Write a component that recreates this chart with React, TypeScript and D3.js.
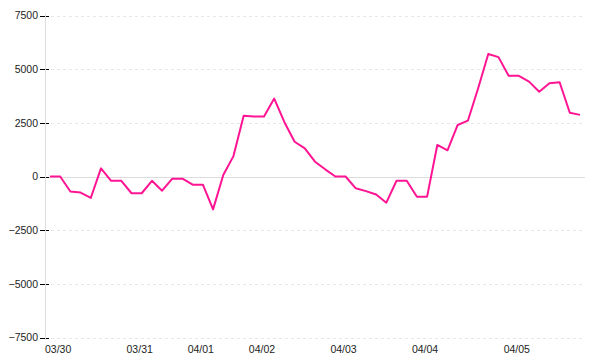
import React from "react";
import * as d3 from "d3";

const values: number[] = [
  0, 0, -700, -750, -1000, 380, -200, -200, -780, -780,
  -200, -660, -100, -100, -380, -380, -1530, 70, 950, 2830,
  2790, 2790, 3630, 2530, 1620, 1310, 690, 335, 0, 0,
  -550, -680, -840, -1220, -200, -200, -940, -940, 1470, 1220,
  2400, 2600, 4100, 5710, 5560, 4690, 4690, 4420, 3950, 4340,
  4390, 2970, 2870,
];
const dayLabels: string[] = ["03/30", "03/31", "04/01", "04/02", "04/03", "04/04", "04/05"];
const dayStartIndex: number[] = [0, 8, 14, 20, 28, 36, 45];
const yTicks: number[] = [7500, 5000, 2500, 0, -2500, -5000, -7500];

const W = 600;
const H = 360;

export default function App() {
  const x = d3.scaleLinear().domain([0, values.length - 1]).range([50, 580]);
  const y = d3.scaleLinear().domain([-7500, 7500]).range([337.5, 15.5]);
  const line = d3
    .line<number>()
    .x((_, i) => x(i))
    .y((d) => y(d));
  const fmt = (v: number) => (v < 0 ? "\u2212" + Math.abs(v) : String(v));
  const font = "'Liberation Sans', Arial, sans-serif";

  return (
    <svg
      width={W}
      height={H}
      style={{ position: "absolute", left: 0, top: 0, display: "block" }}
      shapeRendering="crispEdges"
    >
      <rect width={W} height={H} fill="#fff" />
      {yTicks.map((t) =>
        t === 0 ? (
          <line key={t} x1={45} x2={585} y1={Math.round(y(t)) + 0.5} y2={Math.round(y(t)) + 0.5} stroke="#dddddd" strokeWidth={1} />
        ) : (
          <line
            key={t}
            x1={51}
            x2={584}
            y1={Math.round(y(t)) + 0.5}
            y2={Math.round(y(t)) + 0.5}
            stroke="#e6e6e6"
            strokeWidth={1}
            strokeDasharray="3,3"
          />
        )
      )}
      {yTicks.map((t) => (
        <g key={"t" + t}>
          <line x1={39.5} x2={48.5} y1={Math.round(y(t)) + 0.5} y2={Math.round(y(t)) + 0.5} stroke="#000" strokeWidth={1} />
          <text
            x={38}
            y={y(t)}
            dy="0.36em"
            textAnchor="end"
            fontFamily={font}
            fontSize={10.5}
            fill="#222"
          >
            {fmt(t)}
          </text>
        </g>
      ))}
      <line x1={45.5} x2={45.5} y1={14} y2={340} stroke="#dddddd" strokeWidth={1} />
      {dayLabels.map((lab, k) => (
        <text
          key={lab}
          x={x(dayStartIndex[k]) - 5}
          y={352.5}
          textAnchor="start"
          fontFamily={font}
          fontSize={10.5}
          fill="#222"
        >
          {lab}
        </text>
      ))}
      <path
        d={line(values) || ""}
        fill="none"
        stroke="#ff1493"
        strokeWidth={2}
        strokeLinejoin="round"
        shapeRendering="auto"
      />
    </svg>
  );
}
